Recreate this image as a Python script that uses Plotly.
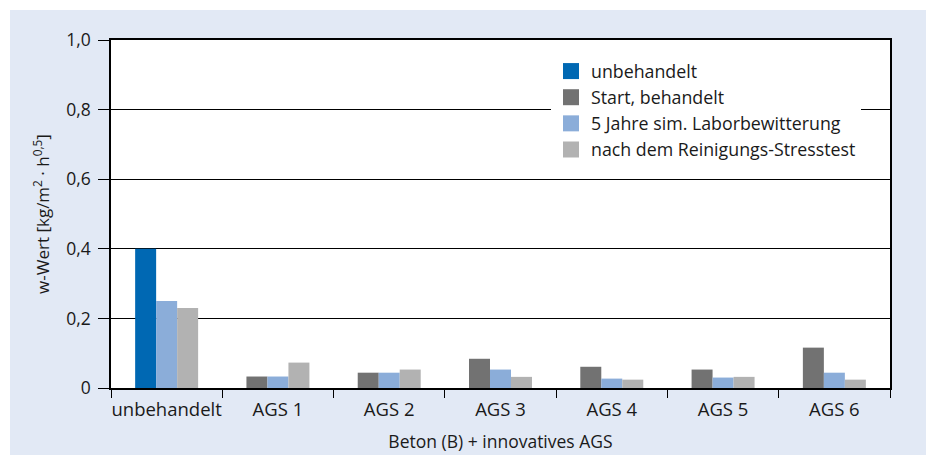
import plotly.graph_objects as go

categories = ["unbehandelt", "AGS 1", "AGS 2", "AGS 3", "AGS 4", "AGS 5", "AGS 6"]
unbehandelt = [0.40, None, None, None, None, None, None]
start_behandelt = [None, 0.033, 0.044, 0.084, 0.061, 0.053, 0.116]
jahre5 = [0.25, 0.033, 0.044, 0.053, 0.027, 0.030, 0.044]
reinigung = [0.23, 0.073, 0.053, 0.032, 0.024, 0.032, 0.024]

series_names = ["unbehandelt", "Start, behandelt", "5 Jahre sim. Laborbewitterung",
                "nach dem Reinigungs-Stresstest"]
y_tickvals = [0, 0.2, 0.4, 0.6, 0.8, 1.0]
y_ticktext = ["0", "0,2", "0,4", "0,6", "0,8", "1,0"]

colors = ["#0068b3", "#727272", "#8badd9", "#b2b2b2"]
groups = ["a", "a", "b", "c"]
FONT = "Open Sans"
TXT = "#1a1a1a"

fig = go.Figure()
for name, vals, col, grp in zip(series_names,
                                [unbehandelt, start_behandelt, jahre5, reinigung],
                                colors, groups):
    fig.add_trace(go.Bar(x=categories, y=vals, name=name, marker_color=col,
                         marker_line_width=0, offsetgroup=grp, showlegend=False))
for name, col in zip(series_names, colors):
    fig.add_trace(go.Scatter(x=[None], y=[None], mode="markers", name=name,
                             marker=dict(symbol="square", size=16, color=col)))

W, H = 926, 455
L, R, T, B = 111, 36, 40, 67
pw, ph = W - L - R, H - T - B

fig.update_layout(
    width=W, height=H,
    margin=dict(l=L, r=R, t=T, b=B),
    paper_bgcolor="white",
    plot_bgcolor="white",
    barmode="group",
    bargap=0.434,
    bargroupgap=0,
    font=dict(family=FONT, size=17.5, color=TXT),
    legend=dict(x=(551 - L) / pw, xanchor="left", y=(H - B - 53) / ph, yanchor="top",
                bgcolor="white", borderwidth=0, font=dict(size=17.8, color=TXT),
                itemsizing="trace"),
    shapes=[
        dict(type="rect", xref="paper", yref="paper", layer="below",
             x0=(10 - L) / pw, x1=(W - L) / pw, y0=-(B) / ph, y1=(H - B - 10) / ph,
             fillcolor="#e2e9f5", line_width=0),
        dict(type="rect", xref="paper", yref="paper", layer="below",
             x0=0, x1=1, y0=0, y1=1, fillcolor="white", line_width=0),
    ],
)
fig.update_xaxes(
    type="category", showline=True, linecolor="black", linewidth=1.5, mirror=True,
    ticks="outside", tickson="boundaries", ticklen=8, tickcolor="black", tickwidth=1.3,
    showgrid=False, tickfont=dict(size=18.5, color=TXT), tickangle=0, automargin=False,
    ticklabelstandoff=4,
    title=dict(text="Beton (B) + innovatives AGS", font=dict(size=17.5, color=TXT),
               standoff=16),
)
fig.update_yaxes(
    range=[0, 1.0], tickvals=y_tickvals, ticktext=y_ticktext,
    showline=True, linecolor="black", linewidth=1.5, mirror=True,
    ticks="outside", ticklen=11, tickcolor="black", tickwidth=1.3,
    showgrid=True, gridcolor="black", gridwidth=1.3, zeroline=False,
    tickfont=dict(size=17.5, color=TXT), automargin=False, ticklabelstandoff=4,
    title=dict(text="w-Wert [kg/m<sup>2</sup> · h<sup>0,5</sup>]",
               font=dict(size=17, color=TXT), standoff=12),
)

fig.write_html("out.html", config={"displayModeBar": False},
               post_script="document.body.style.margin='0';document.body.style.padding='0';")
